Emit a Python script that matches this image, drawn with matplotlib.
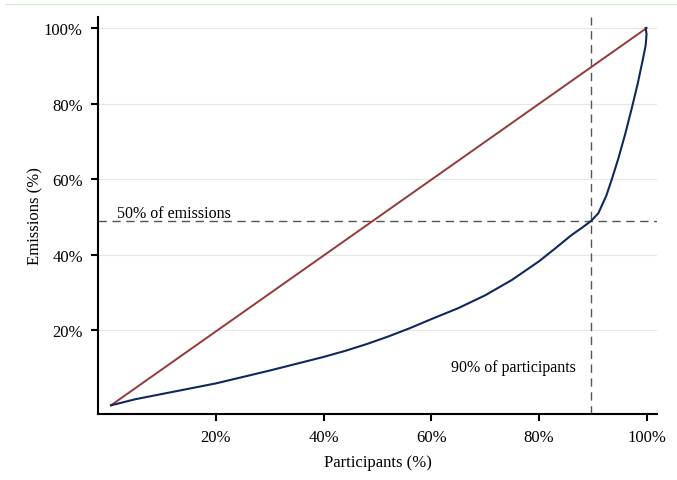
import matplotlib
matplotlib.use("Agg")
import matplotlib.pyplot as plt
from matplotlib.lines import Line2D

## Lorenz-style curve of emissions vs participants (in %)
part_pct = [0.5, 2.5, 5, 10, 15, 20, 25, 30, 35, 40, 44, 48, 52, 56, 60, 65, 70, 75,
            80, 83, 86, 88, 89.7, 91, 92.5, 93.6, 94.7, 96.0, 97.2, 98.3, 99.3, 99.8,
            99.95, 99.8]
emis_pct = [0.2, 0.9, 1.8, 3.2, 4.6, 6.0, 7.7, 9.4, 11.2, 13.0, 14.6, 16.4, 18.4, 20.6,
            23.0, 25.9, 29.3, 33.4, 38.3, 41.7, 45.2, 47.2, 49.0, 51.0, 55.7, 60.4,
            65.4, 72.0, 78.7, 85.2, 91.9, 95.5, 98.3, 100.0]
equal_x = [0.5, 100]
equal_y = [0.2, 100]

ref_emis = 49.0
ref_part = 89.7
ticks = [20, 40, 60, 80, 100]
tick_labels = ["20%", "40%", "60%", "80%", "100%"]

plt.rcParams['font.family'] = ['Liberation Serif', 'DejaVu Serif']
plt.rcParams['font.size'] = 12

fig = plt.figure(figsize=(6.77, 4.81), dpi=100)
ax = fig.add_axes([0.1448, 0.1372, 0.8257, 0.8254])

## grid lines
for t in ticks:
    ax.axhline(t, color="#e6e6e6", linewidth=0.8, zorder=0)

ax.plot(equal_x, equal_y, color="#96383a", linewidth=1.4, zorder=3)
ax.plot(part_pct, emis_pct, color="#10285a", linewidth=1.5, zorder=4)

ax.axhline(ref_emis, color="#555555", linewidth=1.0, linestyle=(0, (6, 4)), zorder=2)
ax.axvline(ref_part, color="#555555", linewidth=1.0, linestyle=(0, (6, 4)), zorder=2)

ax.text(1.7, ref_emis + 1.0, "50% of emissions", fontsize=11.5, ha="left", va="baseline")
ax.text(86.8, 9.4, "90% of participants", fontsize=11.5, ha="right", va="baseline")

ax.set_xlim(-1.9, 101.9)
ax.set_ylim(-2.1, 102.9)
ax.set_xticks(ticks)
ax.set_xticklabels(tick_labels)
ax.set_yticks(ticks)
ax.set_yticklabels(tick_labels)
ax.tick_params(direction="out", length=5, width=1.5, pad=6, labelsize=12)

for s in ["top", "right"]:
    ax.spines[s].set_visible(False)
for s in ["left", "bottom"]:
    ax.spines[s].set_linewidth(1.5)

ax.set_xlabel("Participants (%)", labelpad=6.5)
ax.set_ylabel("Emissions (%)", labelpad=0)

## thin green rule at the top
fig.add_artist(Line2D([0.007, 1.0], [0.99, 0.99], color="#d4ecd0", linewidth=1.0))

fig.savefig("out.png", dpi=100)
